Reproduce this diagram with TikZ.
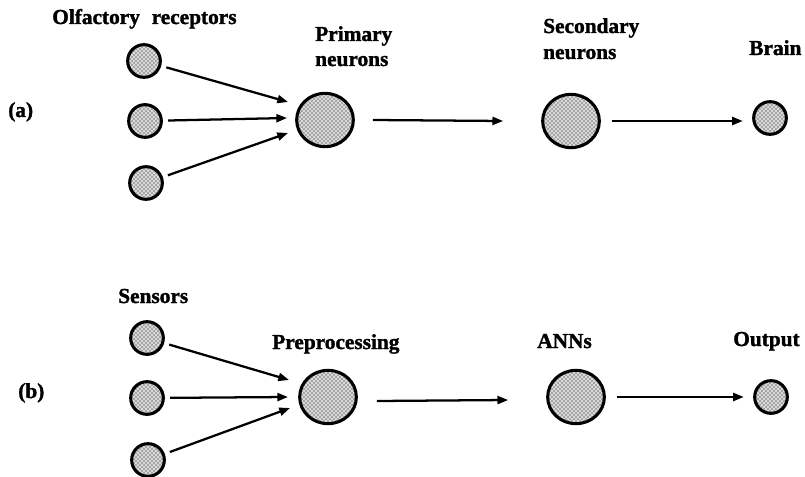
\documentclass[tikz,border=0pt]{standalone}
\usepackage{fontspec}
\setmainfont{Liberation Serif}[BoldFeatures={FakeBold=1.5}]
\usetikzlibrary{arrows.meta,shapes.geometric,patterns,calc}

\begin{document}
\begin{tikzpicture}[x=0.75pt,y=-0.75pt,
  cell/.style={circle,draw=black,line width=2.3pt,preaction={fill=gray!30},
    pattern=crosshatch dots,pattern color=black,minimum size=24.5pt,inner sep=0pt},
  bigcell/.style={ellipse,draw=black,line width=2.3pt,preaction={fill=gray!30},
    pattern=crosshatch dots,pattern color=black,
    minimum width=42.5pt,minimum height=40pt,inner sep=0pt},
  lbl/.style={font=\bfseries\fontsize{16}{19}\selectfont,anchor=base west,inner sep=0pt},
  link/.style={line width=1.7pt,-{Triangle[length=8pt,width=6pt]}},
]
\useasboundingbox (0,0) rectangle (805,477);

% ---------- (a) biological olfaction ----------
\node[lbl] (la) at (8,117) {(a)};
\node[lbl] (lrec) at (52,24) {Olfactory\hspace{0.3em} receptors};
\node[lbl] (lprim1) at (315,41) {Primary};
\node[lbl] (lprim2) at (315,66) {neurons};
\node[lbl] (lsec1) at (543,33) {Secondary};
\node[lbl] (lsec2) at (543,59) {neurons};
\node[lbl] (lbrain) at (749,55) {Brain};

\node[cell] (r1) at (144,61) {};
\node[cell] (r2) at (145,121) {};
\node[cell] (r3) at (146,183) {};
\node[bigcell] (prim) at (325,120) {};
\node[bigcell] (sec) at (571,121) {};
\node[cell] (brain) at (770,118) {};

\coordinate (pa1) at ($(prim.center)+(-37,-18)$);
\coordinate (pa2) at ($(prim.center)+(-38,-2)$);
\coordinate (pa3) at ($(prim.center)+(-37,13)$);
\coordinate (ps) at ($(prim.east)+(18,0)$);
\coordinate (se) at ($(sec.west)+(-38,0)$);

\draw[link,shorten <=4pt] (r1) -- (pa1);
\draw[link,shorten <=4pt] (r2) -- (pa2);
\draw[link,shorten <=4pt] (r3) -- (pa3);
\draw[link] (ps) -- (se);
\draw[link,shorten <=8pt,shorten >=7pt] (sec.east) -- (sec.east -| brain.west);

% ---------- (b) electronic nose ----------
\node[lbl] (lb) at (18,398) {(b)};
\node[lbl] (lsens) at (118,303) {Sensors};
\node[lbl] (lpre) at (272,349) {Preprocessing};
\node[lbl] (lann) at (537,348) {ANNs};
\node[lbl] (lout) at (733,346) {Output};

\node[cell] (s1) at (147,338) {};
\node[cell] (s2) at (147,398) {};
\node[cell] (s3) at (148,460) {};
\node[bigcell] (pre) at (328,397) {};
\node[bigcell] (ann) at (576,397) {};
\node[cell] (out) at (771,397) {};

\coordinate (pb1) at ($(pre.center)+(-39,-17)$);
\coordinate (pb2) at ($(pre.center)+(-40,0)$);
\coordinate (pb3) at ($(pre.center)+(-38,11)$);
\coordinate (pq) at ($(pre.east)+(19,4)$);
\coordinate (an) at ($(ann.west)+(-38,3)$);

\draw[link,shorten <=4pt] (s1) -- (pb1);
\draw[link,shorten <=4pt] (s2) -- (pb2);
\draw[link,shorten <=4pt] (s3) -- (pb3);
\draw[link] (pq) -- (an);
\draw[link,shorten <=8pt,shorten >=7pt] (ann.east) -- (ann.east -| out.west);
\end{tikzpicture}
\end{document}
